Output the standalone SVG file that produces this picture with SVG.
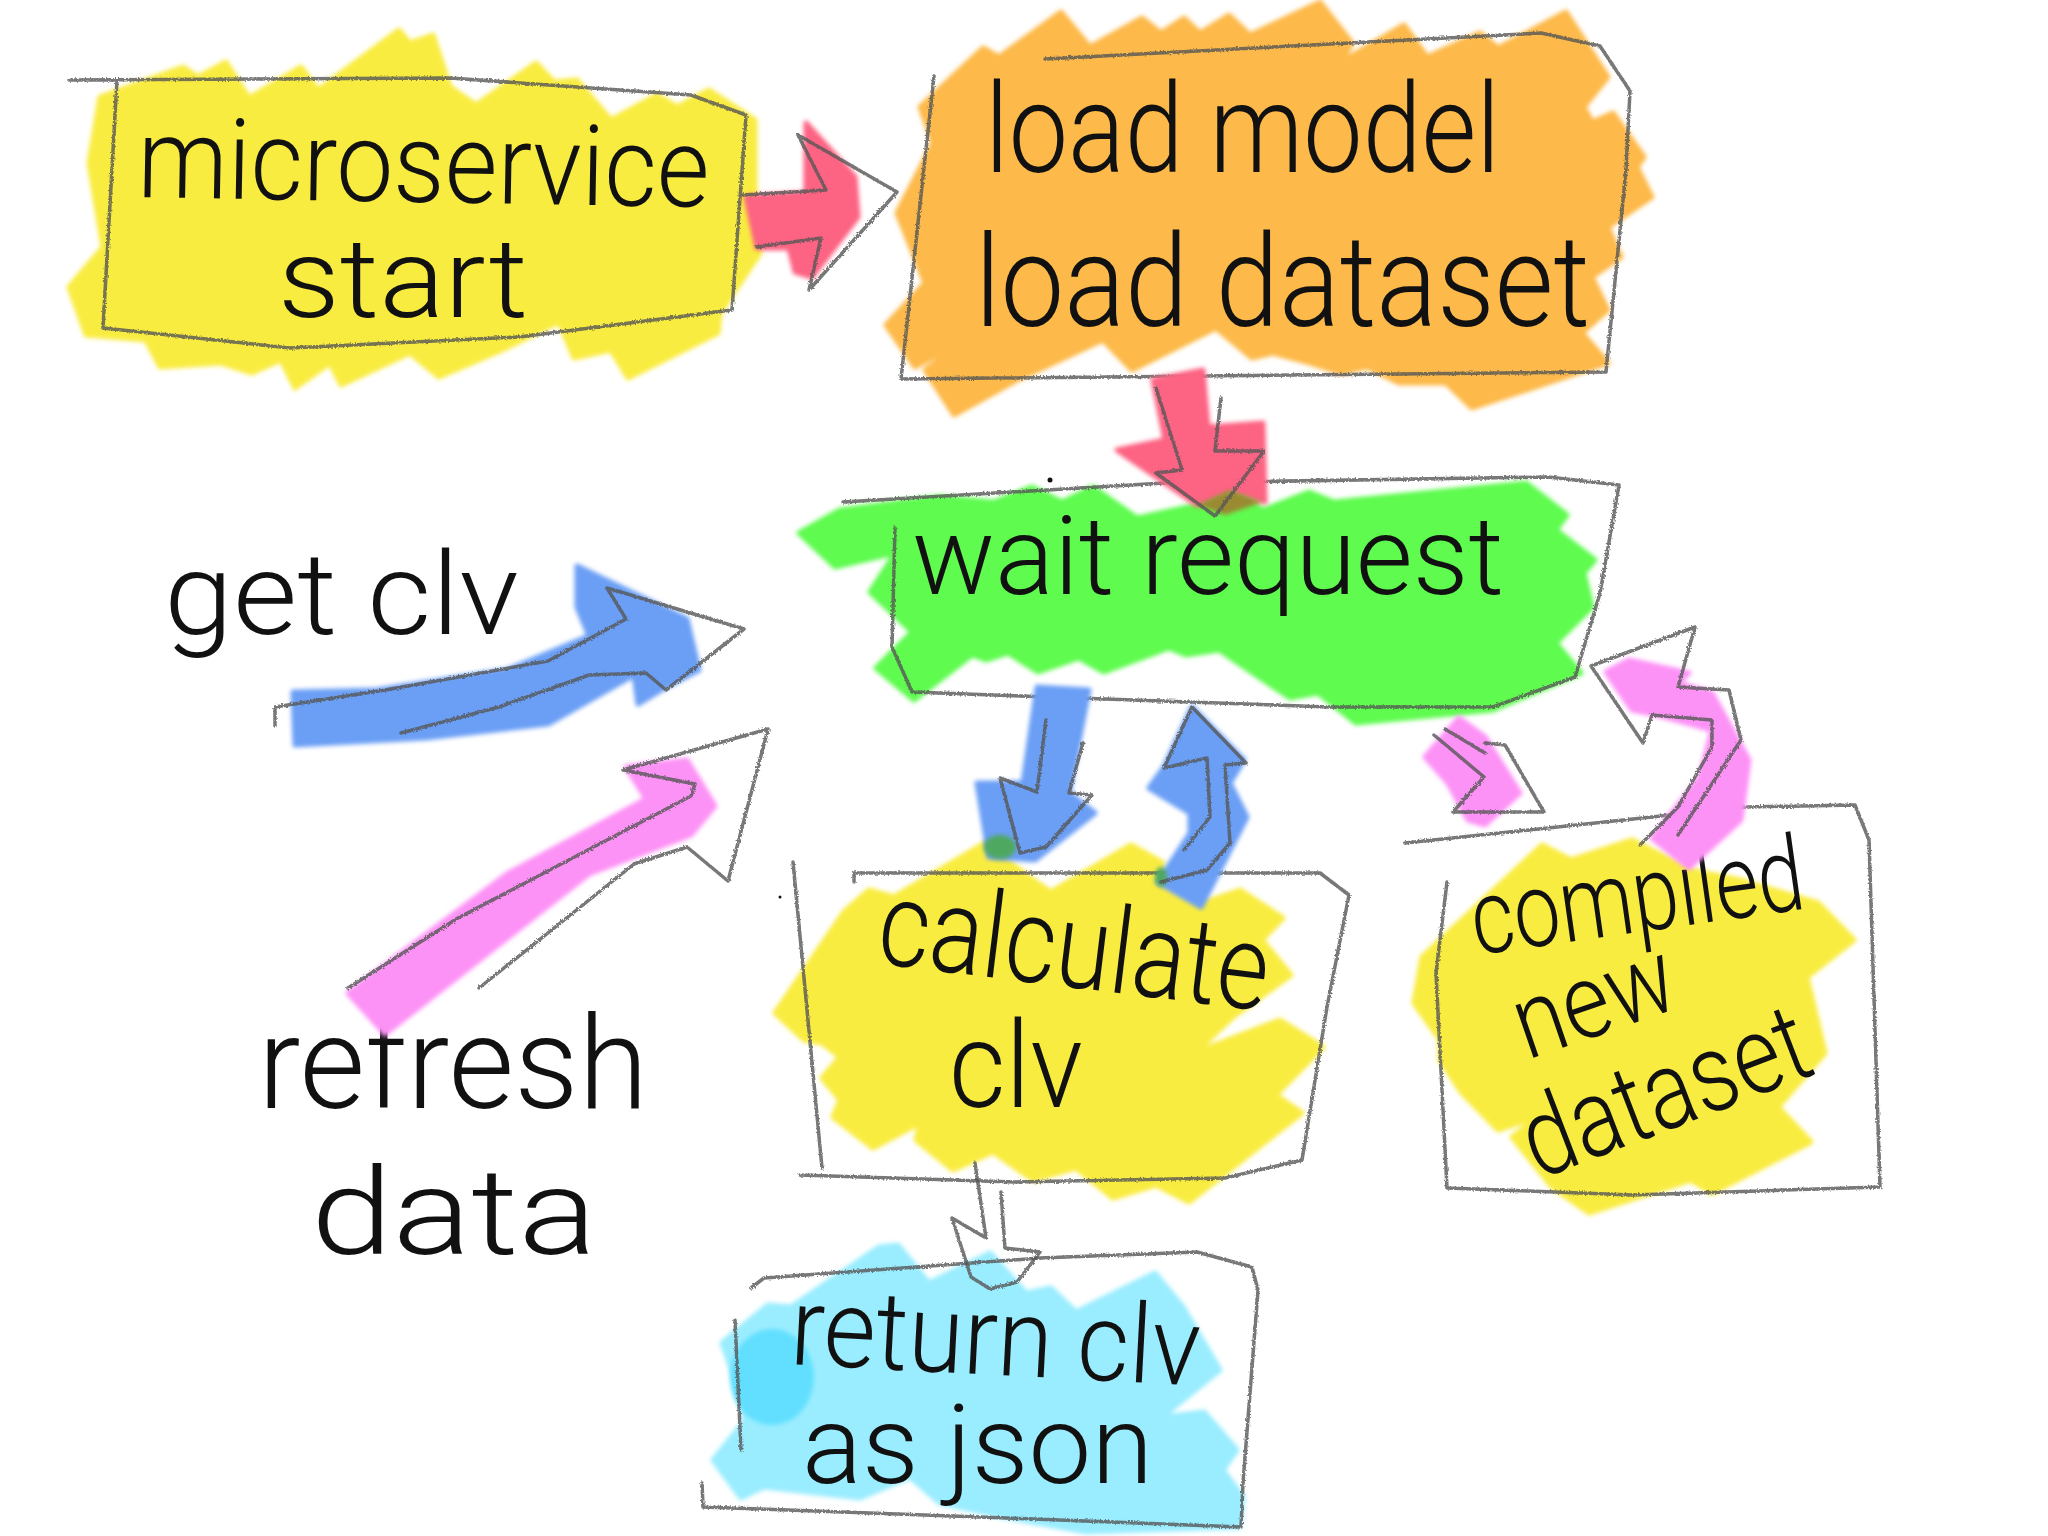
<svg xmlns="http://www.w3.org/2000/svg" width="2048" height="1536" viewBox="0 0 2048 1536">
<style>
.hi{stroke-width:5;stroke-linejoin:round;filter:url(#s)}
.ln{fill:none;stroke:#555;stroke-width:3.5;stroke-linejoin:round;stroke-linecap:round;stroke-opacity:.8;filter:url(#rough)}
.t{font-family:Roboto,"Liberation Sans",sans-serif;fill:#111;font-weight:300}
.y{fill:#f9ec40;stroke:#f9ec40}
.o{fill:#fdb948;stroke:#fdb948}
.g{fill:#5ffb50;stroke:#5ffb50}
.c{fill:#9aedff;stroke:#9aedff}
.r{fill:#fd6483;stroke:#fd6483}
.b{fill:#6b9ff5;stroke:#6b9ff5}
.p{fill:#fd92f6;stroke:#fd92f6}
</style>
<defs>
<filter id="s" filterUnits="userSpaceOnUse" x="0" y="0" width="2048" height="1536"><feGaussianBlur stdDeviation="2"/></filter>
<filter id="rough" filterUnits="userSpaceOnUse" x="0" y="0" width="2048" height="1536"><feTurbulence type="fractalNoise" baseFrequency="0.6" numOctaves="1" seed="3"/><feDisplacementMap in="SourceGraphic" scale="3.5"/></filter>
</defs>
<rect width="2048" height="1536" fill="#fff"/>
<g id="node-microservice">
<polygon class="hi y" points="100,97 183,67 198,77 226,62 249,98 301,67 318,90 399,30 410,43 433,35 450,87 476,105 536,63 554,82 577,80 611,120 657,95 677,107 709,90 755,120 755,187 760,253 720,313 718,333 628,378 611,350 574,358 559,322 502,350 439,377 410,353 341,385 330,363 295,388 281,360 252,373 221,363 160,367 146,340 86,335 69,287 103,247 89,163"/>
<path class="ln" d="M69 80L450 78L691 95L746 115L732 310L519 337L290 348L103 328L117 80"/>
<text class="t" font-size="112" textLength="572" lengthAdjust="spacingAndGlyphs" transform="translate(137 197) rotate(1)">microservice</text>
<text class="t" font-size="112" textLength="250" lengthAdjust="spacingAndGlyphs" x="278" y="317">start</text>
</g>
<g id="node-load">
<polygon class="hi o" points="920,107 983,48 999,57 1061,12 1090,47 1142,18 1161,33 1184,18 1200,33 1229,15 1250,35 1320,2 1352,43 1341,62 1404,25 1427,57 1480,33 1498,48 1566,12 1608,77 1584,107 1592,122 1613,113 1644,157 1637,167 1652,197 1608,227 1621,257 1592,277 1608,310 1582,333 1608,363 1472,408 1446,383 1399,383 1367,367 1341,373 1310,363 1273,353 1252,358 1216,328 1132,370 1103,340 1017,380 954,415 925,370 970,337 915,367 886,325 925,283 897,213 933,143"/>
<path class="ln" d="M934 76L901 379L1606 372L1626 170L1630 91L1600 46L1541 33L1045 59"/>
<text class="t" font-size="125" textLength="515" lengthAdjust="spacingAndGlyphs" x="985" y="172">load model</text>
<text class="t" font-size="128" textLength="615" lengthAdjust="spacingAndGlyphs" x="975" y="326">load dataset</text>
</g>
<g id="node-wait">
<polygon class="hi g" points="799,533 840,510 939,497 994,502 1032,487 1062,502 1093,487 1137,518 1197,505 1230,490 1263,510 1309,492 1334,502 1526,483 1567,515 1556,530 1595,560 1584,573 1592,607 1556,643 1581,673 1493,710 1356,723 1318,693 1290,698 1219,650 1186,655 1169,648 1104,672 1079,658 1038,672 1008,653 986,660 972,655 914,700 876,668 912,632 870,592 895,553 835,567"/>
<path class="ln" d="M843 502L1164 483L1548 477L1619 485L1600 593L1575 677L1493 707L1328 707L912 692L892 647L895 528"/>
<circle cx="1050" cy="480" r="2.5" fill="#111"/>
<text class="t" font-size="110" textLength="592" lengthAdjust="spacingAndGlyphs" x="912" y="594">wait request</text>
</g>
<g id="node-calculate">
<polygon class="hi y" points="775,1013 844,912 869,890 894,897 985,843 1029,877 1051,892 1131,845 1163,863 1156,883 1196,905 1240,890 1283,918 1262,940 1291,975 1233,1017 1196,1052 1280,1020 1323,1047 1276,1095 1302,1113 1189,1202 1156,1185 1113,1198 1076,1168 1033,1180 993,1152 953,1170 916,1140 920,1123 873,1148 833,1117 840,1100 822,1078 840,1057 822,1043 804,1040"/>
<path class="ln" d="M854 882L854 873L1320 873L1349 895L1327 1007L1302 1160L1225 1178L1014 1182L800 1175M793 862L822 1168"/>
<circle cx="780" cy="897" r="1.5" fill="#111"/>
<text class="t" font-size="120" textLength="392" lengthAdjust="spacingAndGlyphs" transform="translate(875 963) rotate(7)">calculate</text>
<text class="t" font-size="120" textLength="134" lengthAdjust="spacingAndGlyphs" x="949" y="1107">clv</text>
</g>
<g id="node-compiled">
<polygon class="hi y" points="1414,1003 1422,957 1542,845 1571,860 1632,840 1691,870 1740,880 1818,903 1854,940 1807,977 1825,1053 1778,1107 1811,1142 1712,1193 1691,1180 1589,1213 1552,1187 1512,1137 1538,1117 1498,1130 1462,1093 1440,1060 1440,1040"/>
<path class="ln" d="M1405 843L1746 807L1855 805L1869 840L1880 1187L1632 1195L1447 1188L1436 973L1447 882"/>
<text class="t" font-size="105" textLength="335" lengthAdjust="spacingAndGlyphs" transform="translate(1476 955) rotate(-8)">compiled</text>
<text class="t" font-size="105" textLength="165" lengthAdjust="spacingAndGlyphs" transform="translate(1527 1060) rotate(-19)">new</text>
<text class="t" font-size="110" textLength="300" lengthAdjust="spacingAndGlyphs" transform="translate(1538 1180) rotate(-21)">dataset</text>
</g>
<g id="node-return">
<polygon class="hi c" points="722,1343 768,1305 791,1307 879,1247 898,1245 929,1283 990,1253 1026,1293 1051,1288 1076,1312 1155,1273 1183,1307 1220,1370 1162,1417 1204,1412 1237,1450 1223,1470 1243,1497 1239,1527 1086,1532 1005,1517 940,1503 910,1477 860,1498 764,1487 741,1498 713,1460 745,1420 734,1377"/>
<ellipse cx="772" cy="1377" rx="42" ry="48" fill="#62dfff" filter="url(#s)"/>
<path class="ln" d="M751 1288L764 1278L1040 1258L1197 1252L1252 1267L1258 1290L1243 1483L1241 1527L979 1517L703 1507L702 1483M735 1320L741 1450"/>
<text class="t" font-size="110" textLength="410" lengthAdjust="spacingAndGlyphs" transform="translate(789 1364) rotate(3)">return clv</text>
<text class="t" font-size="110" textLength="351" lengthAdjust="spacingAndGlyphs" x="802" y="1483">as json</text>
</g>
<g id="node-getclv">
<text class="t" font-size="115" textLength="355" lengthAdjust="spacingAndGlyphs" x="164" y="634">get clv</text>
</g>
<g id="node-refresh">
<text class="t" font-size="130" textLength="390" lengthAdjust="spacingAndGlyphs" x="258" y="1108">refresh</text>
<text class="t" font-size="120" textLength="286" lengthAdjust="spacingAndGlyphs" x="311" y="1254">data</text>
</g>
<g id="connectors">
<polygon class="hi r" points="806,123 855,177 858,217 812,277 795,272 789,248 757,248 746,197 806,193"/>
<path class="ln" d="M743 195L826 190L798 135L897 192L809 290L821 238L757 247"/>
<polygon class="hi r" points="1153,380 1203,370 1208,427 1263,423 1265,502 1230,490 1197,505 1117,450 1165,440"/>
<polygon points="1197,505 1230,490 1263,502 1225,515" fill="#9a8a30" filter="url(#s)"/>
<path class="ln" d="M1156 388L1182 470L1156 473L1215 516L1264 451L1215 451L1221 398"/>
<polygon class="hi b" points="293,692 377,690 507,670 589,636 577,607 577,566 687,619 699,670 666,687 638,704 634,675 548,724 426,738 295,745"/>
<path class="ln" d="M275 726L275 707L385 690L548 661L626 619L607 588L744 629L666 690L646 673L589 675L499 707L401 733"/>
<polygon class="hi p" points="348,993 507,874 646,799 626,767 687,760 715,806 691,835 589,874 385,1034"/>
<path class="ln" d="M348 988L458 918L691 796L695 784L623 770L768 729L728 881L687 847L634 864L479 988"/>
<polygon class="hi b" points="1037,687 1089,690 1069,793 1095,813 1035,860 989,857 977,783 1023,783"/>
<ellipse cx="1000" cy="847" rx="16" ry="12" fill="#4fa860" filter="url(#s)"/>
<path class="ln" d="M1046 720L1037 792L1000 778L1020 853L1046 847L1092 795L1069 793L1083 743"/>
<polygon class="hi b" points="1192,707 1244,760 1230,783 1247,817 1201,907 1158,882 1190,833 1190,813 1149,788 1164,767"/>
<ellipse cx="1161" cy="877" rx="6" ry="10" fill="#4fa860" filter="url(#s)"/>
<path class="ln" d="M1184 850L1210 817L1207 758L1164 768L1192 707L1246 763L1225 765L1230 843L1207 870L1161 882"/>
<polygon class="hi p" points="1459,718 1485,737 1520,793 1485,825 1468,820 1448,783 1425,757"/>
<path class="ln" d="M1434 735L1484 777L1453 812L1544 812L1505 745L1485 743M1445 729L1485 753"/>
<polygon class="hi p" points="1606,672 1629,660 1689,673 1678,683 1712,693 1749,760 1741,820 1689,868 1652,838 1700,777 1712,730 1657,715 1632,710"/>
<path class="ln" d="M1640 845L1678 807L1712 747L1712 720L1652 715L1643 743L1591 666L1695 627L1678 687L1729 690L1741 740L1678 835"/>
<path class="ln" d="M975 1163L986 1238L952 1218L971 1277L990 1289L1017 1282L1040 1252L1005 1248L1001 1192"/>
</g>
</svg>
